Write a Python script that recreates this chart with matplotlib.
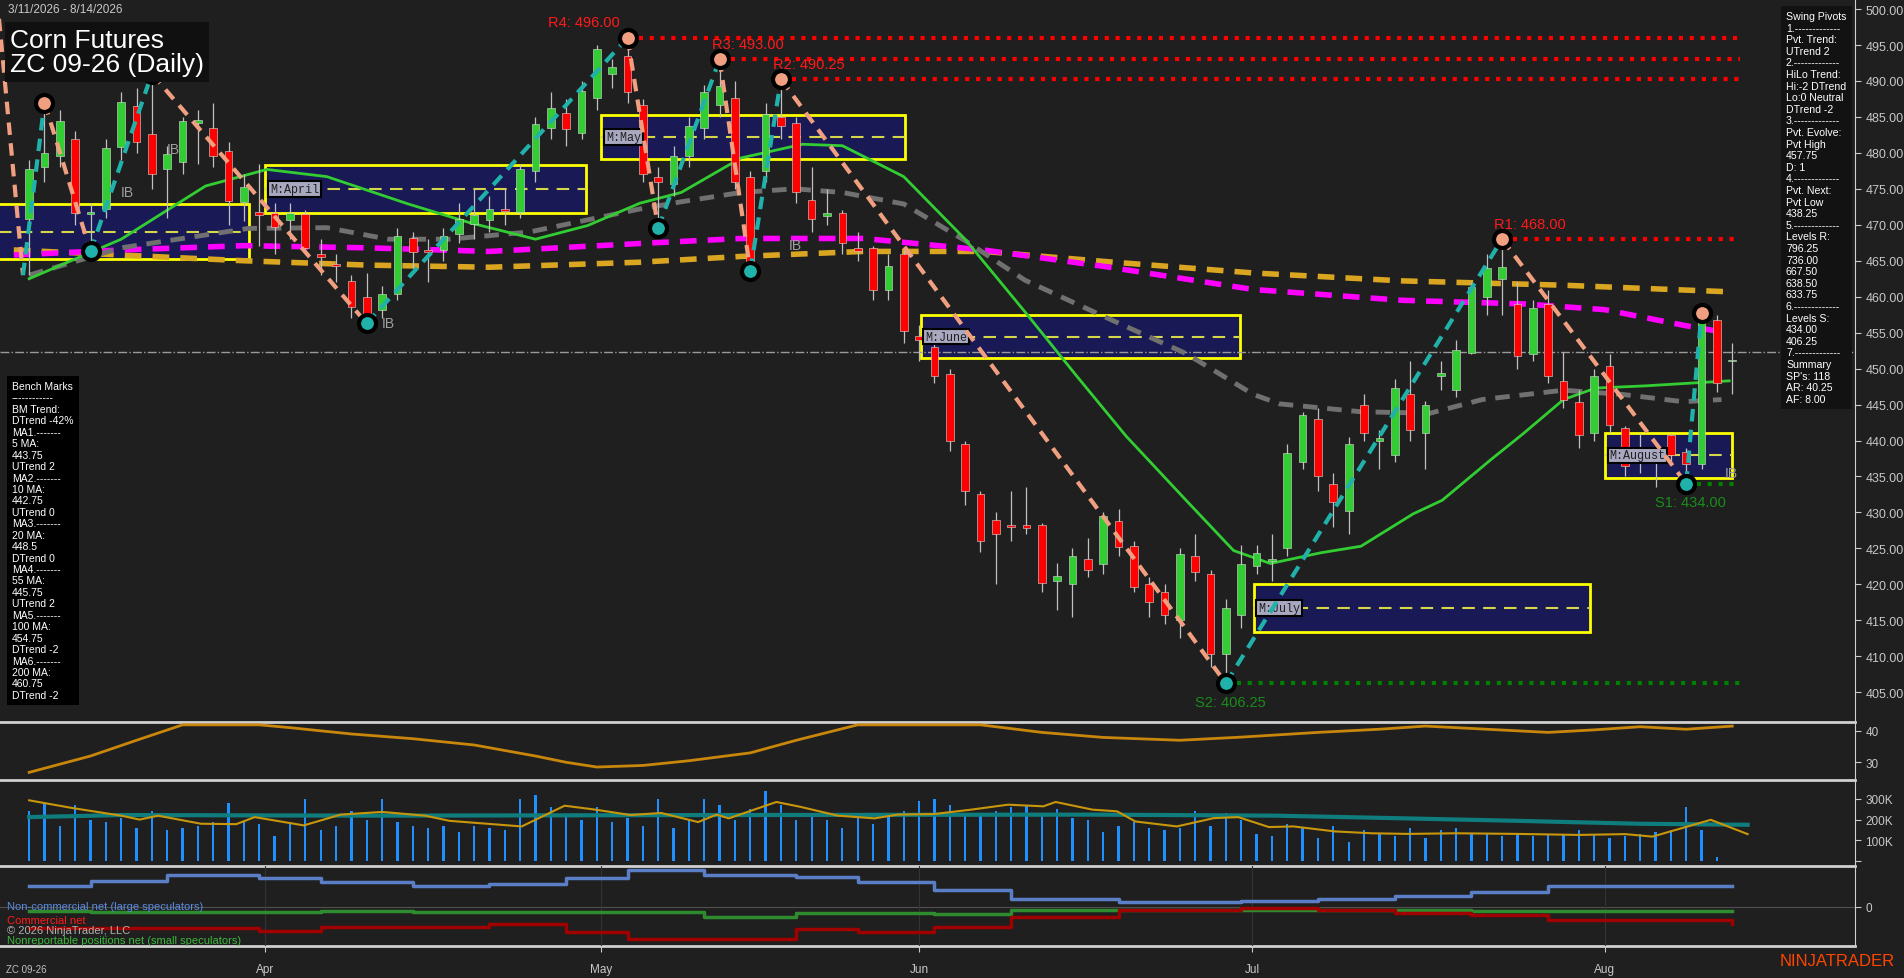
import matplotlib
matplotlib.use("Agg")
import matplotlib.pyplot as plt
import numpy as np
from matplotlib.patches import Rectangle

# ---------------- data ----------------
ohlc = [
(470.8,477.7,479,463),(478,480,487,476),(479.6,484.5,486,478),(482,471.6,483,470),(471.5,471.8,473,466.3),
(472.2,480.7,482,471),(480.8,487.1,488.5,479),(486.5,481.5,489,480),(482.6,477.1,491,475),(477.7,479.9,481,471),
(478.8,484.5,485,477),(484.2,484.6,486,478.5),(483.4,479.6,487,478),(480.2,473.3,481.5,470),(473.2,475.2,477,470.5),
(471.8,471.4,478.5,467),(471.6,469.7,473,466),(470.6,471.6,473,468),(471.5,466.8,472,466),(466,465.5,468,463),
(464.6,464.3,466,462),(462.2,458.6,463,457),(460,457.5,463.3,456.3),(458.2,460.4,461.5,457),(460.4,468.4,469.5,459.5),
(468.2,466.2,469,464),(466.4,466.2,468,462),(466.5,468.4,469.5,465),(468.7,470.8,473,467.5),(470.1,471.3,475,468),
(470.6,472.2,474,469),(472.2,471.9,475,470),(471.8,477.8,478.5,471),(477.5,484,485,476),(483.4,486.3,488.5,482),
(485.5,483.3,487.5,481),(482.8,488.6,490,482),(487.6,494.4,495,486),(491,492,493,489),(493.5,488.5,496,487),
(486.7,477.1,487.5,476),(476.7,476,478,469.5),(475.7,479.6,481,474),(479.6,483.7,485,478),(483.4,488.4,489.5,482),
(486.7,489.3,493,485),(487.7,476,490,475),(476.7,464.3,477.5,463.6),(477.5,485.4,487,476),(485,483.7,490.25,482),
(484.2,474.5,485,473),(473.4,470.8,478,469),(471.2,471.6,475,470),(471.6,467.5,472,466),(466.8,466.3,469,465),
(466.8,461,467,459.5),(461,464.3,466,459.5),(466,455.3,466.5,453.5),(454.5,454,456,451),(453,449,454,448),
(449.2,440,450,438.5),(439.5,433,440,431),(432.5,426,433,424.5),(429,427,430,420),(428.2,428,433,426),
(428.3,427.8,433.5,427),(428.2,420.2,428.5,419),(420.5,421.2,423,416.5),(420,424,425,415.5),(423.5,422,426.5,421),
(422.8,429.5,430,421.5),(428.8,425.2,430.5,424),(425.3,419.7,426,419),(420,417.6,421,415.5),(419,415.7,420,414.5),
(415,424.2,425,412.5),(424,421.7,427,420.5),(421.4,410.3,422,408.5),(410.3,416.7,418,406.25),(415.7,422.8,425.5,414),
(422.6,424.4,425.5,421.5),(423.3,423.5,427,420.5),(425,438.2,439.5,424),(437,443.5,444,436),(443,435,444.5,433),
(434,431.5,435.5,428),(430.2,439.5,440.5,427),(445,441,446.5,440),(440,440.3,441.5,436),(438,447.3,448.5,437),
(446.5,441.4,451,440),(441,445,445.5,436),(449,449.4,451,447),(447,452.6,454,446),(452.2,461.4,462,452),
(460,464,466,457.5),(462.5,464.2,468,457.5),(459,451.8,462,450),(452,458.5,459.5,451),(459,449,461,448),
(448.3,445.7,452.3,444.5),(445.4,440.8,447,439),(441,449,450,440),(450.3,442.2,452,441),(441.7,436.5,442,435),
(438,438.2,441,435.5),(438.4,438.4,439.5,433.5),(440.8,438,441,437),(438.4,436.8,439,434),(436.8,457.5,457.75,436),
(456.7,448,457.5,446.8),(451,451,453.5,446.5),
]
month_labels = ["Apr", "May", "Jun", "Jul", "Aug"]
month_pos = [15.4, 37.3, 58.0, 79.7, 102.7]

pivot_idx = [-0.4, 1, 4, 8, 22, 39, 41, 45, 47, 49, 78, 96, 108, 109]
pivot_px = [463, 487, 466.3, 491, 456.3, 496, 469.5, 493, 463.6, 490.25, 406.25, 468, 434, 457.75]
pivot_type = ["L", "H", "L", "H", "L", "H", "L", "H", "L", "H", "L", "H", "L", "H"]

res_levels = [("R4: 496.00", 39, 496.0), ("R3: 493.00", 45, 493.0), ("R2: 490.25", 49, 490.25), ("R1: 468.00", 96, 468.0)]
sup_levels = [("S2: 406.25", 78, 406.25), ("S1: 434.00", 108, 434.0)]

boxes = [("", -2, 14.3, 465.2, 472.9), ("M:April", 15.4, 36.3, 471.7, 478.3), ("M:May", 37.3, 57.1, 479.2, 485.2),
         ("M:June", 58.1, 78.9, 451.5, 457.4), ("M:July", 79.8, 101.7, 413.4, 420.0), ("M:August", 102.7, 111.0, 434.8, 441.1)]

ma20_x = [0, 6, 11.5, 15.5, 19.4, 24.7, 28.7, 33, 36.4, 39.8, 42.5, 46.4, 50.4, 53, 57, 61, 64.9, 68.3, 71.5, 75.4, 78.5, 80.9, 84.2, 86.8, 90.2, 92.1, 95.3, 97.4, 100, 102.1, 105.3, 109.2, 110.8]
ma20_y = [462.5, 468, 475.4, 477.7, 476.7, 472.9, 470.3, 468, 469.9, 473, 474.5, 479.3, 481.2, 481, 476.7, 468, 457.9, 448.9, 440.6, 431.7, 424.7, 422.9, 424.4, 425.3, 429.8, 431.7, 437.4, 441, 445.7, 447.3, 447.6, 448.1, 448.3]
ma55_x = [0, 6, 14.3, 19.4, 23.4, 27.4, 32.6, 39.8, 42.5, 46.4, 49.9, 53, 57, 61, 64.9, 70.1, 75.4, 79.8, 81.5, 86.8, 91.3, 94.7, 100, 103.9, 107.8, 110.3]
ma55_y = [463, 466.8, 469.5, 469.6, 468, 468, 469, 472.2, 473.2, 474.5, 475, 474.5, 472.9, 467.8, 462.3, 457.2, 452.1, 446.4, 445.1, 444, 443.8, 445.7, 447, 446.4, 445.4, 445.7]
ma100_x = [-1, 6, 14, 22, 30, 39.8, 46.4, 54.4, 62.2, 70.1, 79.8, 89.5, 97.4, 102.7, 107.9, 110.6]
ma100_y = [465.8, 466.5, 467.1, 466.8, 466.3, 467.4, 468.1, 468.1, 466.5, 464.2, 461, 459.5, 459, 458.2, 456, 455]
ma200_x = [-1, 6, 14, 22, 30, 39.8, 46.4, 54.4, 62.2, 70.1, 79.8, 89.5, 100, 110.6]
ma200_y = [466.5, 465.8, 465, 464.4, 464.1, 464.8, 465.6, 466.3, 466.3, 464.9, 463.3, 462.2, 461.6, 460.7]
midline_price = 452.25

adx_x = [0, 4, 7, 10, 15, 17, 21, 25, 29, 33, 35, 37, 40, 43, 47, 50, 54, 62, 66, 70, 75, 79, 84, 88, 91, 95, 99, 102, 105, 108, 111]
adx_y = [26.8, 32, 37, 41.9, 41.9, 41, 39, 37.5, 35.5, 32, 30, 28.5, 29, 30.5, 33, 37, 41.9, 41.9, 39.5, 37.9, 37, 38, 39.5, 40.5, 41.5, 40.5, 39.5, 40.3, 41.3, 40.5, 41.5]

volume = [240,280,170,270,200,190,210,160,240,150,160,170,190,280,190,180,120,190,300,150,170,240,200,300,190,170,160,170,140,170,
          160,150,300,320,260,220,200,260,190,210,170,300,160,200,300,270,200,250,340,270,200,220,200,160,210,180,230,240,290,300,
          270,230,220,240,260,270,230,250,210,200,140,170,190,160,150,160,240,170,230,200,130,120,180,160,110,170,90,150,130,120,
          160,110,150,160,130,130,120,130,120,130,130,150,130,110,120,130,140,150,260,150,20]
vol_ma_x = [0, 2.8, 6, 7.2, 8.4, 11.2, 13.5, 14.7, 17.9, 20.3, 23, 25.8, 27.4, 32.1, 34.9, 36.9, 39.2, 41.2, 43.6, 44.8, 45.6, 48.7, 50.3, 52.7, 55.1, 56.6, 59, 61.4, 63.8, 66.1, 66.9, 69.3, 70.9, 72.1, 74.8, 77.2, 78.8, 80.8, 82.4, 85.1, 87.5, 89.9, 93, 97, 101, 104, 105.8, 109.6, 112]
vol_ma_y = [293, 256, 219, 200, 219, 180, 178, 212, 172, 224, 237, 219, 194, 167, 267, 248, 222, 232, 188, 224, 206, 285, 261, 219, 206, 224, 227, 248, 272, 264, 285, 248, 240, 191, 167, 207, 212, 164, 167, 143, 134, 131, 134, 131, 126, 130, 118, 199, 130]
vol_sig_x = [0, 6, 22, 45.6, 69.3, 81.2, 89, 97, 104.9, 112]
vol_sig_y = [212, 222, 219, 222, 224, 219, 207, 194, 180, 175]

cot_x = [0, 4, 9, 15, 19, 25, 30, 35, 39, 44, 50, 54, 59, 64, 71, 79, 84, 89, 94, 99, 111]
cot_noncomm = [53, 65, 80, 71, 61, 52, 56, 71, 92, 80, 74, 61, 41, 20, 11, 15, 20, 26, 38, 52, 52]
cot_comm = [-52, -52, -52, -60, -50, -50, -43, -62, -80, -80, -55, -62, -50, -26, -9, -4, -8, -15, -20, -32, -43]
cot_small = [-10, -12, -12, -12, -10, -12, -12, -12, -12, -25, -15, -15, -18, -8, -8, -7, -9, -9, -10, -10, -10]

bench_text = ("Bench Marks\n------------\nBM Trend:\nDTrend -42%\nMA1.-------\n5 MA:\n443.75\nUTrend 2\nMA2.-------\n10 MA:\n442.75\n"
              "UTrend 0\nMA3.-------\n20 MA:\n448.5\nDTrend 0\nMA4.-------\n55 MA:\n445.75\nUTrend 2\nMA5.-------\n100 MA:\n454.75\n"
              "DTrend -2\nMA6.-------\n200 MA:\n460.75\nDTrend -2")
swing_text = ("Swing Pivots\n1.-------------\nPvt. Trend:\nUTrend 2\n2.-------------\nHiLo Trend:\nHi:-2 DTrend\nLo:0 Neutral\nDTrend -2\n"
              "3.-------------\nPvt. Evolve:\nPvt High\n457.75\nD: 1\n4.-------------\nPvt. Next:\nPvt Low\n438.25\n5.-------------\n"
              "Levels R:\n796.25\n736.00\n667.50\n638.50\n633.75\n6.-------------\nLevels S:\n434.00\n406.25\n7.-------------\n"
              "Summary\nSP's: 118\nAR: 40.25\nAF: 8.00")

# ---------------- figure ----------------
BG = "#1f1f1f"
W, H = 1904, 979
fig = plt.figure(figsize=(W / 100, H / 100), dpi=100, facecolor=BG)
plt.rcParams['font.family'] = ['Liberation Sans', 'DejaVu Sans']

def mk(top, bot):
    ax = fig.add_axes([0, 1 - bot / H, 1855 / W, (bot - top) / H], facecolor=BG)
    ax.set_xlim(-1.9, 119)
    for s in ["top", "left", "bottom"]:
        ax.spines[s].set_visible(False)
    ax.spines["right"].set_color("#d0d0d0")
    ax.yaxis.tick_right()
    ax.tick_params(axis="y", colors="#c8c8c8", labelsize=8.5, length=4, direction="out")
    ax.tick_params(axis="x", bottom=False, labelbottom=False)
    return ax

ax = mk(0, 722)
ax2 = mk(723, 780)
ax3 = mk(781, 866)
ax4 = mk(867, 947)
for a in (ax2, ax3, ax4):
    a.plot([0, 1], [1, 1], transform=a.transAxes, color="#d0d0d0", lw=2, clip_on=False)
ax4.plot([0, 1], [0, 0], transform=ax4.transAxes, color="#d0d0d0", lw=2, clip_on=False)

ax.set_ylim(401, 501.4)
ticks = np.arange(405, 501, 5)
ax.set_yticks(ticks)
ax.set_yticklabels([f"{t:.2f}" for t in ticks])
ax.tick_params(axis="y", labelsize=9)

n = len(ohlc)
xs = np.arange(n)
O = np.array([r[0] for r in ohlc]); C = np.array([r[1] for r in ohlc])
Hh = np.array([r[2] for r in ohlc]); L = np.array([r[3] for r in ohlc])

# monthly boxes
for name, x0, x1, lo, hi in boxes:
    ax.add_patch(Rectangle((x0, lo), x1 - x0, hi - lo, facecolor="#191a55", edgecolor="#ffff00", lw=2, zorder=1))
    mid = (lo + hi) / 2
    ax.plot([x0, x1], [mid, mid], color="#d6d64a", lw=1.5, ls=(0, (6, 4)), zorder=2)
    if name:
        ax.text(x0 + 0.3, mid, name, fontsize=8.5, family="Liberation Mono", color="#202020", va="center", ha="left",
                bbox=dict(boxstyle="square,pad=0.15", fc="#a8a8c0", ec="black", lw=1.5), zorder=6)

ax.axhline(midline_price, color="#9a9a9a", lw=1, ls="-.", zorder=2)

# moving averages
ax.plot(ma200_x, ma200_y, color="#daa520", lw=4, ls=(0, (3, 2)), zorder=3)
ax.plot(ma100_x, ma100_y, color="#ff00ff", lw=4, ls=(0, (3, 2)), zorder=3)
ax.plot(ma55_x, ma55_y, color="#707070", lw=3.5, ls=(0, (3, 2)), zorder=3)
ax.plot(ma20_x, ma20_y, color="#32cd32", lw=2, zorder=3)

# candles
up = C >= O
cols = np.where(up, "#32cd32", "#ff0000")
ax.vlines(xs, L, Hh, color="#c0c0c0", lw=0.9, zorder=4)
body = np.maximum(np.abs(C - O), 0.25)
ax.bar(xs, body, bottom=np.minimum(O, C), width=0.5, color=cols, edgecolor="#dddddd", lw=0.4, zorder=5)

# resistance / support lines
for lab, i, p in res_levels:
    ax.plot([i, 111.5], [p, p], color="#ff0000", lw=3, ls=(0, (1, 1.6)), zorder=4)
    ax.text(i - 0.5, p + 1.2, lab, color="#ff1a1a", fontsize=10.5, ha="right" if lab[:2] == "R4" else "left", va="bottom", zorder=7)
for lab, i, p in sup_levels:
    ax.plot([i, 111.5], [p, p], color="#008000", lw=3, ls=(0, (1, 1.6)), zorder=4)
    ax.text(i + 0.3, p - 1.6, lab, color="#1a8c1a", fontsize=10.5, ha="center", va="top", zorder=7)

# zigzag
ax.plot([-2.2, pivot_idx[0]], [504, pivot_px[0]], color="#f0a080", lw=3, ls=(0, (3, 2)), zorder=6, clip_on=True)
for k in range(len(pivot_idx) - 1):
    c = "#20b2aa" if pivot_type[k] == "L" else "#f0a080"
    ax.plot(pivot_idx[k:k + 2], pivot_px[k:k + 2], color=c, lw=3, ls=(0, (3, 2)), zorder=6)
for i, p, t in zip(pivot_idx[1:], pivot_px[1:], pivot_type[1:]):
    ax.scatter([i], [p], s=150, color="#f0a080" if t == "H" else "#20b2aa", edgecolor="black", lw=3, zorder=7)

for (x, y) in [(9, 480.5), (6, 474.5), (23, 456.3), (49.5, 467.2), (110.5, 435.5)]:
    ax.text(x, y, "IB", color="#a0a0a0", fontsize=10, ha="left", va="center", zorder=7)

# text boxes
fig.text(8 / W, 1 - 10 / H, "3/11/2026 - 8/14/2026", color="#c8c8c8", fontsize=8.5, va="center")
fig.text(10 / W, 1 - 53 / H, "Corn Futures\nZC 09-26 (Daily)", color="white", fontsize=19, va="center", linespacing=1.05,
         bbox=dict(boxstyle="square,pad=0.2", fc="#101010", ec="none"))
fig.text(12 / W, 1 - 382 / H, bench_text, color="white", fontsize=7.5, va="top", linespacing=1.18,
         bbox=dict(boxstyle="square,pad=0.5", fc="black", ec="none"))
fig.text(1786 / W, 1 - 12 / H, swing_text, color="white", fontsize=7.6, va="top", linespacing=1.2,
         bbox=dict(boxstyle="square,pad=0.5", fc="#121212", ec="none"))

# panel 2
ax2.set_ylim(24.7, 42.8)
ax2.set_yticks([30, 40])
ax2.plot(adx_x, adx_y, color="#c8860b", lw=2)

# panel 3
ax3.set_ylim(-19, 391)
ax3.set_yticks([0, 100, 200, 300])
ax3.set_yticklabels(["", "100K", "200K", "300K"])
ax3.bar(np.arange(len(volume)), volume, width=0.15, color="#1e90ff")
ax3.plot(vol_sig_x, vol_sig_y, color="#0f7d7d", lw=3)
ax3.plot(vol_ma_x, vol_ma_y, color="#c8960b", lw=1.5)

# panel 4
ax4.set_ylim(-98, 102)
ax4.set_yticks([0])
ax4.axhline(0, color="#505050", lw=0.8)
for xm in month_pos:
    ax4.axvline(xm, color="#333333", lw=0.8)
ax4.plot(cot_x, cot_noncomm, color="#5b7fc7", lw=2.5, drawstyle="steps-post")
ax4.plot(cot_x, cot_small, color="#2e8b2e", lw=2.5, drawstyle="steps-post")
ax4.plot(cot_x, cot_comm, color="#a00000", lw=2.5, drawstyle="steps-post")
ax4.text(0.004, 0.5, "Non-commercial net (large speculators)", transform=ax4.transAxes, color="#5b8ce0", fontsize=8, va="center")
ax4.text(0.004, 0.32, "Commercial net", transform=ax4.transAxes, color="#ff1a1a", fontsize=8, va="center")
ax4.text(0.004, 0.2, "© 2026 NinjaTrader, LLC", transform=ax4.transAxes, color="#b0b0b0", fontsize=8, va="center")
ax4.text(0.004, 0.08, "Nonreportable positions net (small speculators)", transform=ax4.transAxes, color="#3cb83c", fontsize=8, va="center")

ax4.set_xticks(month_pos)
ax4.set_xticklabels(month_labels)
ax4.tick_params(axis="x", bottom=True, labelbottom=True, colors="#c8c8c8", labelsize=8.5, length=4, pad=8)

fig.text(6 / W, 1 - 970 / H, "ZC 09-26", color="#c0c0c0", fontsize=7, va="center")
fig.text(1895 / W, 1 - 962 / H, "NINJATRADER", color="#ff4500", fontsize=12, ha="right", va="center")

fig.savefig("out.png", dpi=100, facecolor=BG)
